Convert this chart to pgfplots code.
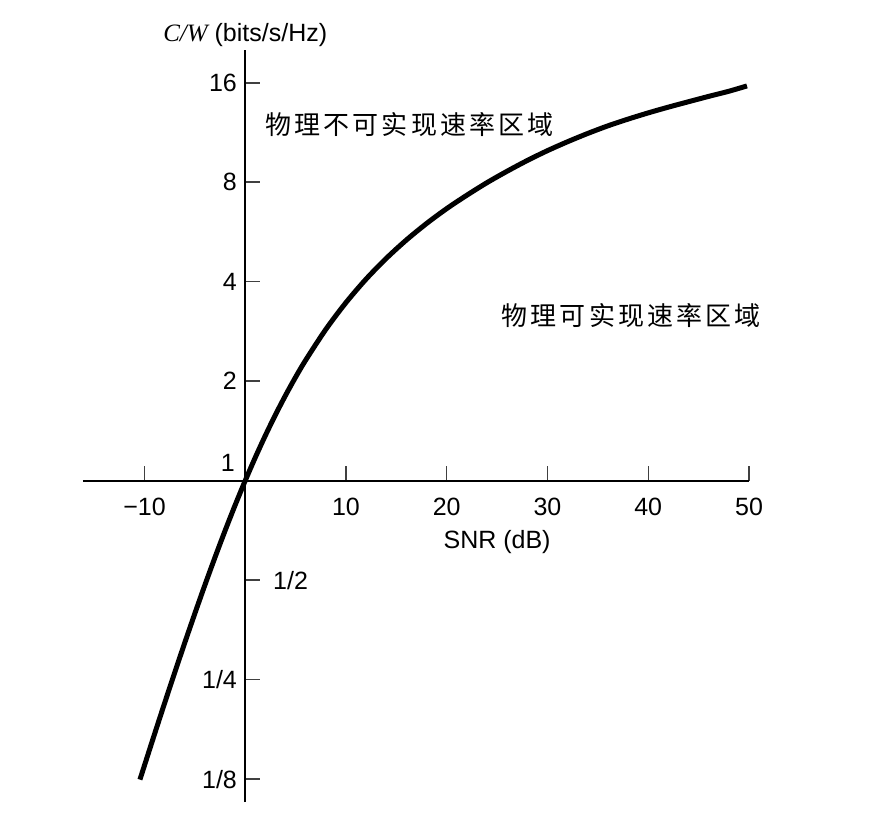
\documentclass[border=0pt]{standalone}
\usepackage{fontspec}
\setmainfont{Liberation Sans}
\newfontfamily\timesfont{Liberation Serif}
\newfontfamily\cjk[LetterSpace=12]{Noto Sans CJK SC}
\usepackage{pgfplots}
\pgfplotsset{compat=1.18}
\begin{document}
\begin{tikzpicture}
\begin{axis}[
  scale only axis, width=266.4pt, height=300.8pt,
  xmin=-16.1, xmax=50,
  ymode=log, log basis y=2, ymin=0.1066, ymax=20.1,
  axis lines=middle,
  axis line style={-, line width=0.8pt},
  every inner x axis line/.append style={-},
  every inner y axis line/.append style={-},
  xtick={-10,10,20,30,40,50},
  xticklabels={−10,10,20,30,40,50},
  ytick={0.125,0.25,0.5,2,4,8,16},
  yticklabels={1/8,1/4,{},2,4,8,16},
  minor tick num=0,
  major tick length=6pt,
  tick style={line width=0.6pt, color=black!75},
  xtick style={yshift=3pt},
  ytick style={xshift=3pt},
  xticklabel style={yshift=-0.6pt},
  yticklabel style={xshift=3.2pt},
  tick label style={font=\fontsize{10}{12}\selectfont},
  clip=false,
]
\addplot[line width=2pt, smooth, tension=0.5] coordinates {
  (-10.45,0.1246) (-10,0.1375) (-9,0.1711) (-8,0.2123) (-7,0.2625)
  (-6,0.3233) (-5,0.3964) (-4,0.4835) (-3,0.5861) (-2,0.7058)
  (-1,0.8435) (0,1) (1,1.1756) (2,1.370) (3,1.5827) (4,1.812)
  (5,2.0574) (6,2.316) (8,2.870) (10,3.459) (12,4.075) (14,4.707)
  (16,5.351) (18,6.002) (20,6.658) (22,7.31) (24,7.98) (26,8.64)
  (28,9.31) (30,9.97) (32,10.61) (34,11.24) (36,11.85) (38,12.42)
  (40,12.97) (42,13.50) (44,14.02) (46,14.55) (48,15.08) (49.8,15.65)
};
\node[anchor=south east, inner sep=0pt, xshift=-4pt, yshift=3.6pt,
  font=\fontsize{10}{12}\selectfont] at (axis cs:0,1) {1};
\node[anchor=west, inner sep=0pt, xshift=11pt,
  font=\fontsize{10}{12}\selectfont] at (axis cs:0,0.5) {1/2};
\node[anchor=center, font=\fontsize{10}{12}\selectfont] at (axis cs:25,0.654) {SNR (dB)};
\node[anchor=center, font=\fontsize{10}{12}\selectfont] at (axis cs:0,22.3)
  {{\timesfont\itshape C/W} (bits/s/Hz)};
\node[anchor=center, font=\fontsize{10.4}{12}\selectfont] at (axis cs:16.3,11.92)
  {\cjk 物理不可实现速率区域};
\node[anchor=center, font=\fontsize{10.4}{12}\selectfont] at (axis cs:38.3,3.17)
  {\cjk 物理可实现速率区域};
\end{axis}
\pgfresetboundingbox
\path[use as bounding box] ([shift={(-33.2pt,-12pt)}]current axis.south west)
  rectangle ([shift={(51.6pt,20pt)}]current axis.north east);
\end{tikzpicture}
\end{document}
